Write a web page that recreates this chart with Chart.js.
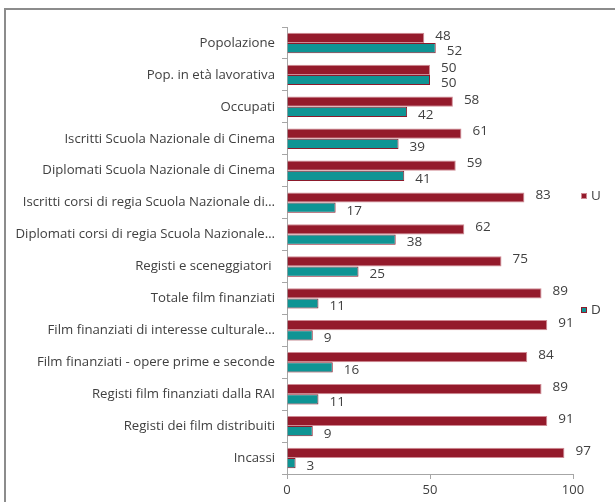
<!DOCTYPE html>
<html>
<head>
<meta charset="utf-8">
<script src="https://cdn.jsdelivr.net/npm/chart.js@4/dist/chart.umd.min.js"></script>
<style>
  html, body { margin: 0; padding: 0; background: #fff; overflow: hidden; }
  #wrap { position: relative; width: 615px; height: 502px; }
  #frame { position: absolute; left: 4px; top: 8px; width: 700px; height: 600px;
           border: 2px solid #8c8c8c; box-sizing: border-box; }
  canvas { position: absolute; left: 0; top: 0; }
</style>
</head>
<body>
<div id="wrap">
  <div id="frame"></div>
  <canvas id="c" width="615" height="502"></canvas>
</div>
<script>
const categories = [
  "Popolazione",
  "Pop. in età lavorativa",
  "Occupati",
  "Iscritti Scuola Nazionale di Cinema",
  "Diplomati Scuola Nazionale di Cinema",
  "Iscritti corsi di regia Scuola Nazionale di…",
  "Diplomati corsi di regia Scuola Nazionale…",
  "Registi e sceneggiatori ",
  "Totale film finanziati",
  "Film finanziati di interesse culturale…",
  "Film finanziati - opere prime e seconde",
  "Registi film finanziati dalla RAI",
  "Registi dei film distribuiti",
  "Incassi"
];
const valuesU = [48, 50, 58, 61, 59, 83, 62, 75, 89, 91, 84, 89, 91, 97];
const valuesD = [52, 50, 42, 39, 41, 17, 38, 25, 11, 9, 16, 11, 9, 3];
const xTicks = [0, 50, 100];

const FONT = "'Open Sans', Lato, sans-serif";
const TEXT = "#404040";

// value labels next to the bar ends
const valueLabels = {
  id: "valueLabels",
  afterDatasetsDraw(chart) {
    const ctx = chart.ctx;
    ctx.save();
    ctx.font = "13.5px " + FONT;
    ctx.fillStyle = TEXT;
    ctx.textAlign = "left";
    ctx.textBaseline = "middle";
    chart.data.datasets.forEach((ds, di) => {
      const meta = chart.getDatasetMeta(di);
      meta.data.forEach((bar, i) => {
        const dy = di === 0 ? -2 : 3;
        ctx.fillText(String(ds.data[i]), bar.x + 11, bar.y + dy);
      });
    });
    ctx.restore();
  }
};

// legend in the right margin
const sideLegend = {
  id: "sideLegend",
  afterDraw(chart) {
    const ctx = chart.ctx;
    const ys = [196, 310];
    ctx.save();
    ctx.font = "13.5px " + FONT;
    ctx.textBaseline = "middle";
    ctx.textAlign = "left";
    chart.data.datasets.forEach((ds, di) => {
      const y = ys[di];
      ctx.fillStyle = ds.backgroundColor;
      ctx.fillRect(581, y - 3, 6, 6);
      ctx.strokeStyle = ds.borderColor;
      ctx.lineWidth = 1;
      ctx.strokeRect(581.5, y - 2.5, 5, 5);
      ctx.fillStyle = TEXT;
      ctx.fillText(ds.label, 591, y);
    });
    ctx.restore();
  }
};

new Chart(document.getElementById("c"), {
  type: "bar",
  data: {
    labels: categories,
    datasets: [
      { label: "U", data: valuesU, backgroundColor: "#941a2b", borderColor: "#cf8a94",
        borderWidth: 1, categoryPercentage: 0.64, barPercentage: 1.0 },
      { label: "D", data: valuesD, backgroundColor: "#0f9494", borderColor: "#8b1a2b",
        borderWidth: 1, categoryPercentage: 0.64, barPercentage: 1.0 }
    ]
  },
  options: {
    indexAxis: "y",
    responsive: false,
    animation: false,
    layout: { padding: { top: 27, right: 42, bottom: 0, left: 0 } },
    plugins: { legend: { display: false }, tooltip: { enabled: false } },
    scales: {
      x: {
        min: 0, max: 100,
        afterBuildTicks(scale) { scale.ticks = xTicks.map(v => ({ value: v })); },
        afterFit(scale) { scale.height = 28; },
        grid: { drawOnChartArea: false, drawTicks: true, tickLength: 5, color: "#a6a6a6" },
        border: { color: "#a6a6a6" },
        ticks: { color: TEXT, font: { family: FONT, size: 13 }, padding: 3 }
      },
      y: {
        afterFit(scale) { scale.width = 287; },
        grid: { drawOnChartArea: false, drawTicks: true, tickLength: 5, color: "#a6a6a6", offset: true },
        border: { color: "#a6a6a6" },
        ticks: { color: TEXT, font: { family: FONT, size: 13.2 }, padding: 7, autoSkip: false }
      }
    }
  },
  plugins: [valueLabels, sideLegend]
});
</script>
</body>
</html>
